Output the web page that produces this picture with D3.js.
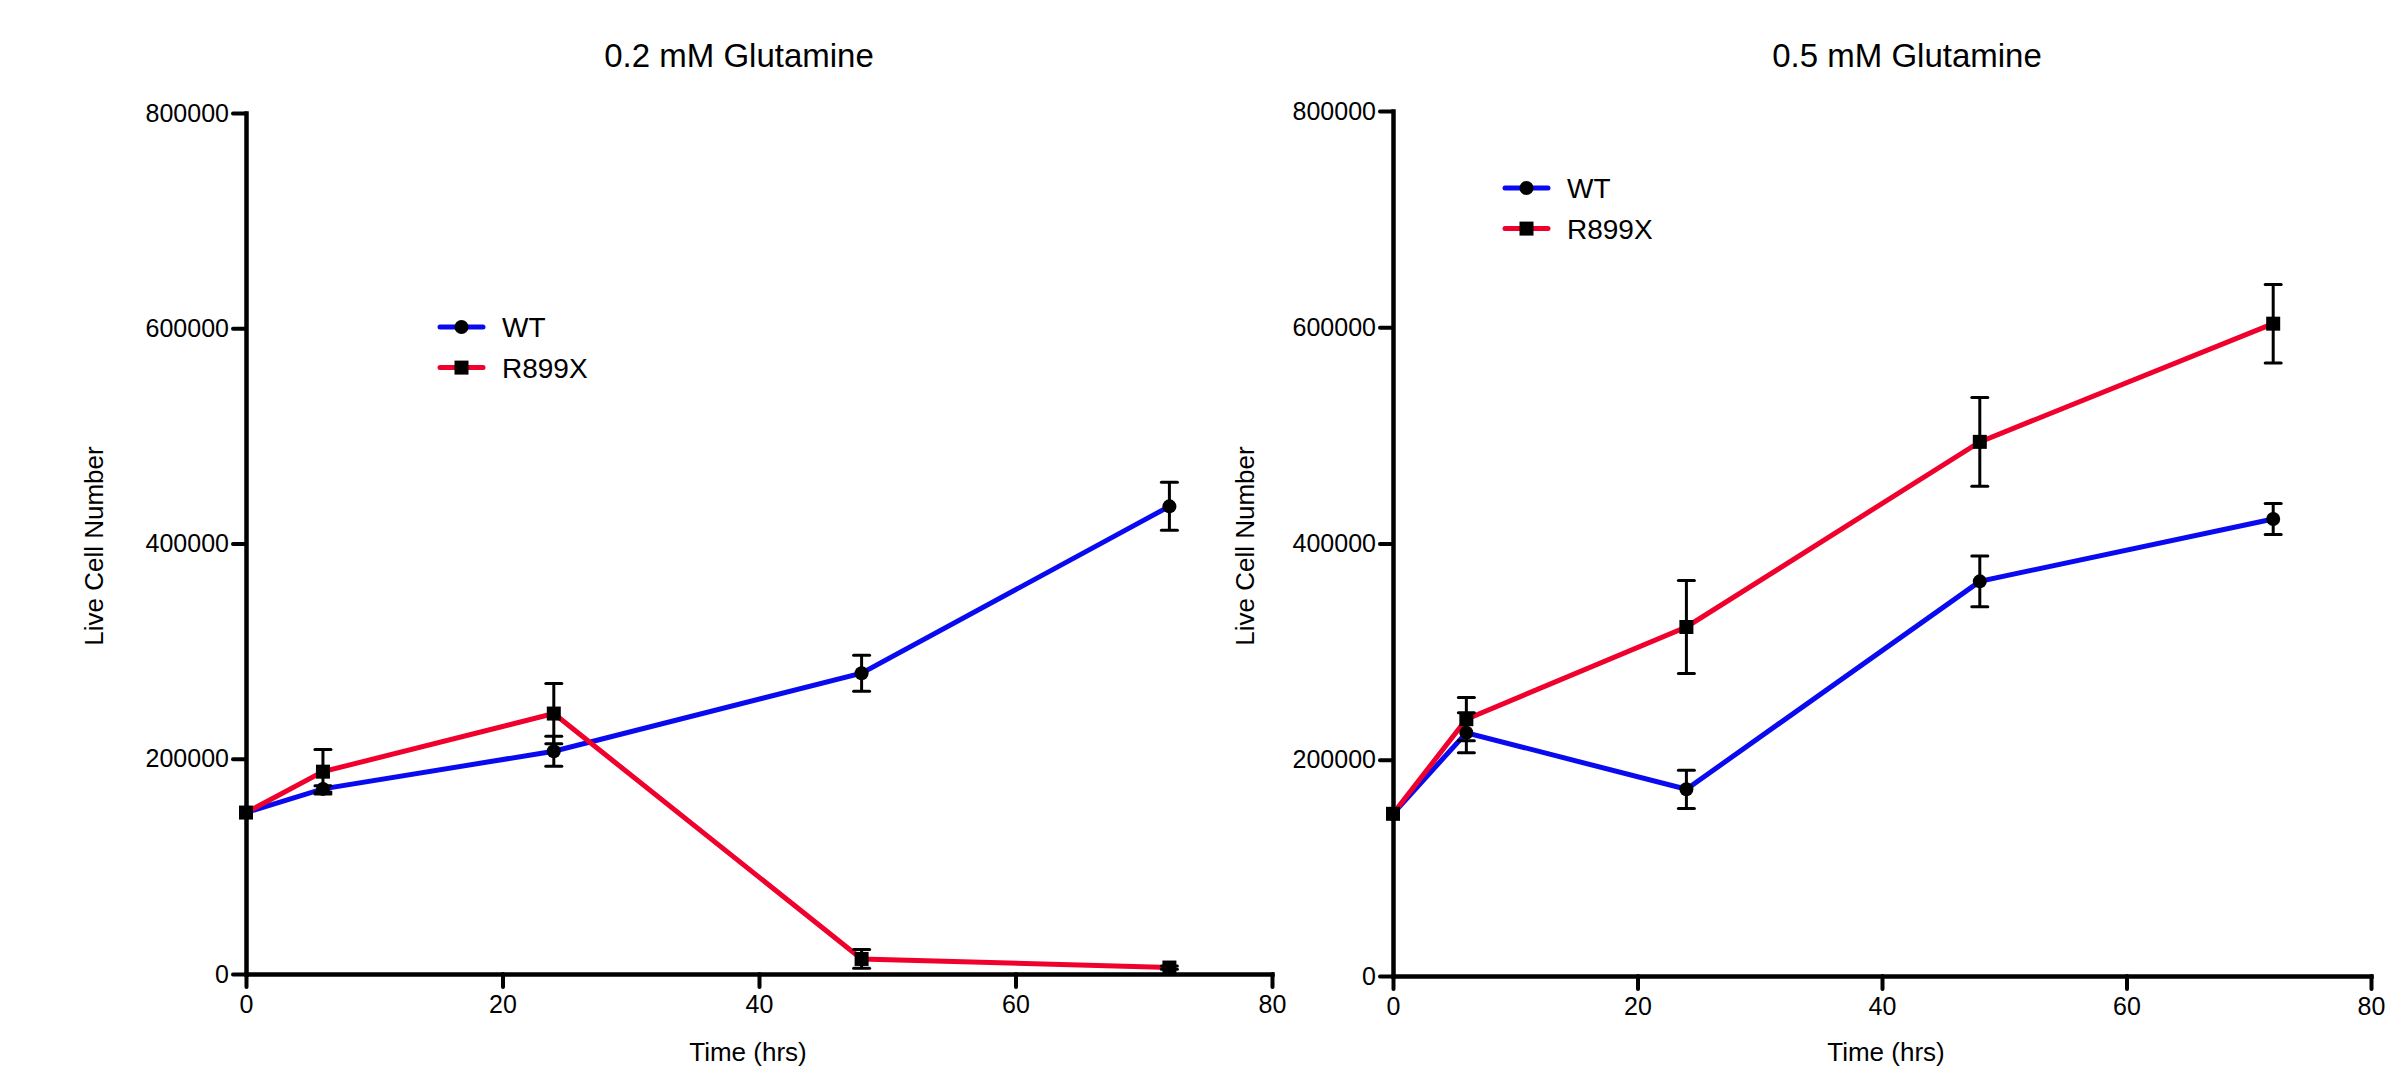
<!DOCTYPE html>
<html>
<head>
<meta charset="utf-8">
<script src="https://cdn.jsdelivr.net/npm/d3@7"></script>
<style>
  body { margin: 0; background: #ffffff; }
  text { font-family: "Liberation Sans", Arial, sans-serif; fill: #000000; }
</style>
</head>
<body>
<div id="chart"></div>
<script>
// Sampling times (hrs)
var times = [0, 6, 24, 48, 72];
var xTicks = [0, 20, 40, 60, 80];
var yTicks = [0, 200000, 400000, 600000, 800000];
var seriesNames = ['WT', 'R899X'];
var panelTitles = ['0.2 mM Glutamine', '0.5 mM Glutamine'];

// 0.2 mM Glutamine
var wtLow = [150000, 172000, 207000, 279500, 434500];
var wtLowErr = [0, 3000, 14000, 16700, 22300];
var mutLow = [150000, 188000, 242000, 14000, 6000];
var mutLowErr = [0, 20700, 28000, 8700, 1500];

// 0.5 mM Glutamine
var wtHigh = [150000, 225000, 172700, 365000, 422700];
var wtHighErr = [0, 18500, 17700, 23400, 14300];
var mutHigh = [150000, 237500, 322800, 494000, 603300];
var mutHighErr = [0, 20000, 43000, 41000, 36300];

var colors = {WT: '#0a0af0', R899X: '#f0002c'};

var svg = d3.select('#chart').append('svg')
  .attr('width', 2397)
  .attr('height', 1072);

function drawPanel(p) {
  //
  // Draw one growth panel: axes, lines, error bars, markers and legend
  //
  var x = d3.scaleLinear().domain([0, 80]).range([p.left, p.right]);
  var y = d3.scaleLinear().domain([0, 800000]).range([p.bottom, p.top]);

  var g = svg.append('g');

  // Axes
  var xAxis = g.append('g')
    .attr('transform', 'translate(0,' + p.bottom + ')')
    .call(d3.axisBottom(x).tickValues(xTicks).tickFormat(d3.format('d'))
      .tickSizeInner(13).tickSizeOuter(0).tickPadding(8));
  var yAxis = g.append('g')
    .attr('transform', 'translate(' + p.left + ',0)')
    .call(d3.axisLeft(y).tickValues(yTicks).tickFormat(d3.format('d'))
      .tickSizeInner(13).tickSizeOuter(0).tickPadding(4));

  [xAxis, yAxis].forEach(function(a) {
    a.select('.domain').attr('stroke-width', 4.5).attr('stroke-linecap', 'square');
    a.selectAll('.tick line').attr('stroke-width', 4).attr('stroke-linecap', 'round');
    a.selectAll('.tick text')
      .style('font-size', '25px')
      .style('font-family', '"Liberation Sans", Arial, sans-serif');
  });

  // Title and axis labels
  g.append('text')
    .attr('x', p.titleX)
    .attr('y', 67)
    .attr('text-anchor', 'middle')
    .style('font-size', '33px')
    .text(p.title);

  g.append('text')
    .attr('x', p.xLabelX)
    .attr('y', 1061)
    .attr('text-anchor', 'middle')
    .style('font-size', '26px')
    .text('Time (hrs)');

  g.append('text')
    .attr('transform', 'translate(' + p.yLabelX + ',' + 546 + ') rotate(-90)')
    .attr('text-anchor', 'middle')
    .style('font-size', '26px')
    .text('Live Cell Number');

  var series = [
    {id: 'WT', values: p.wt, err: p.wtErr},
    {id: 'R899X', values: p.mut, err: p.mutErr}
  ];

  var line = d3.line()
    .x(function(d) { return x(d.t); })
    .y(function(d) { return y(d.v); });

  series.forEach(function(s) {
    s.points = times.map(function(t, i) {
      return {t: t, v: s.values[i], e: s.err[i]};
    });
  });

  // Lines
  g.selectAll('.line')
    .data(series)
    .enter().append('path')
      .attr('class', 'line')
      .attr('d', function(d) { return line(d.points); })
      .attr('fill', 'none')
      .attr('stroke', function(d) { return colors[d.id]; })
      .attr('stroke-width', 5);

  // Error bars and markers
  series.forEach(function(s) {
    var bars = g.append('g');
    var pts = s.points.filter(function(d) { return d.e > 0; });
    bars.selectAll('.bar')
      .data(pts)
      .enter().append('line')
        .attr('x1', function(d) { return x(d.t); })
        .attr('x2', function(d) { return x(d.t); })
        .attr('y1', function(d) { return y(d.v - d.e); })
        .attr('y2', function(d) { return y(d.v + d.e); })
        .attr('stroke', '#000')
        .attr('stroke-width', 3);
    bars.selectAll('.cap')
      .data(pts.map(function(d) { return [d.t, d.v + d.e]; })
        .concat(pts.map(function(d) { return [d.t, d.v - d.e]; })))
      .enter().append('line')
        .attr('x1', function(d) { return x(d[0]) - 8; })
        .attr('x2', function(d) { return x(d[0]) + 8; })
        .attr('y1', function(d) { return y(d[1]); })
        .attr('y2', function(d) { return y(d[1]); })
        .attr('stroke', '#000')
        .attr('stroke-width', 3)
        .attr('stroke-linecap', 'round');
  });

  series.forEach(function(s) {
    var sym = s.id === 'WT' ? d3.symbolCircle : d3.symbolSquare;
    var size = s.id === 'WT' ? Math.PI * 49 : 196;
    g.selectAll('.m' + s.id)
      .data(s.points)
      .enter().append('path')
        .attr('d', d3.symbol().type(sym).size(size))
        .attr('transform', function(d) { return 'translate(' + x(d.t) + ',' + y(d.v) + ')'; })
        .attr('fill', '#000');
  });

  // Legend
  var legend = g.selectAll('.legend')
    .data(series)
    .enter().append('g')
      .attr('class', 'legend')
      .attr('transform', function(d, i) {
        return 'translate(' + p.legendX + ',' + (p.legendY + i * 40.6) + ')';
      });

  legend.append('line')
    .attr('x1', 0)
    .attr('x2', 43)
    .attr('stroke', function(d) { return colors[d.id]; })
    .attr('stroke-width', 5)
    .attr('stroke-linecap', 'round');

  legend.append('path')
    .attr('d', function(d) {
      return d.id === 'WT'
        ? d3.symbol().type(d3.symbolCircle).size(Math.PI * 49)()
        : d3.symbol().type(d3.symbolSquare).size(196)();
    })
    .attr('transform', 'translate(21.5,0)')
    .attr('fill', '#000');

  legend.append('text')
    .attr('x', 62)
    .attr('y', 10)
    .style('font-size', '28px')
    .text(function(d) { return d.id; });
}

drawPanel({
  title: panelTitles[0], left: 246, right: 1272, top: 113, bottom: 974,
  titleX: 739, xLabelX: 748, yLabelX: 103, legendX: 440, legendY: 327,
  wt: wtLow, wtErr: wtLowErr, mut: mutLow, mutErr: mutLowErr
});

drawPanel({
  title: panelTitles[1], left: 1393, right: 2371, top: 111, bottom: 976,
  titleX: 1907, xLabelX: 1886, yLabelX: 1254, legendX: 1505, legendY: 188,
  wt: wtHigh, wtErr: wtHighErr, mut: mutHigh, mutErr: mutHighErr
});
</script>
</body>
</html>
